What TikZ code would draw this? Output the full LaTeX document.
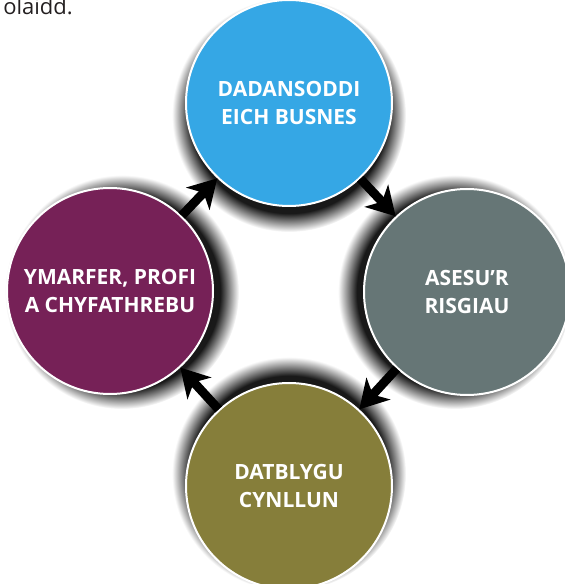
\documentclass[tikz,border=0pt]{standalone}
\usepackage{fontspec}
\setmainfont{Open Sans}
\usetikzlibrary{arrows.meta}

\definecolor{stepblue}{HTML}{35A7E5}
\definecolor{stepgrey}{HTML}{667676}
\definecolor{steppurple}{HTML}{762157}
\definecolor{stepolive}{HTML}{867E3A}
\definecolor{pagetext}{HTML}{231F20}

% soft dark glow behind each circle
\pgfdeclareradialshading{glow}{\pgfpoint{0bp}{0bp}}{color(0bp)=(black); color(21bp)=(black!90); color(25bp)=(white); color(50bp)=(white)}

\begin{document}
\begin{tikzpicture}[x=1pt,y=1pt,
  stepcircle/.style={circle,draw=white,line width=2pt,minimum size=206pt,inner sep=0pt,
    text=white,align=center,font=\bfseries\fontsize{21}{28}\selectfont},
  flow/.style={line width=9pt,-{Stealth[length=28pt,width=32pt,inset=8pt]}}]
\def\g{117}
\useasboundingbox (0,0) rectangle (565,584);

% page text cut off at the top
\node[anchor=base east,inner sep=0pt,text=pagetext,font=\fontsize{22}{26}\selectfont] (pagetop) at (73,569) {olaidd.};

% shadows, pulled towards the middle
\shade[shading=glow] (289,469) circle (\g);
\shade[shading=glow] (455,292) circle (\g);
\shade[shading=glow] (289,110) circle (\g);
\shade[shading=glow] (122,292) circle (\g);

% the four steps
\node[stepcircle,fill=stepblue] (dadansoddi) at (289,481) {DADANSODDI\\EICH BUSNES};
\node[stepcircle,fill=stepgrey] (asesu) at (467,292) {ASESU'R\\RISGIAU};
\node[stepcircle,fill=stepolive] (datblygu) at (289,98) {DATBLYGU\\CYNLLUN};
\node[stepcircle,fill=steppurple] (ymarfer) at (110,293) {YMARFER, PROFI\\A CHYFATHREBU};

% cycle arrows
\draw[flow] (dadansoddi) -- (asesu);
\draw[flow] (asesu) -- (datblygu);
\draw[flow] (datblygu) -- (ymarfer);
\draw[flow] (ymarfer) -- (dadansoddi);
\end{tikzpicture}
\end{document}
